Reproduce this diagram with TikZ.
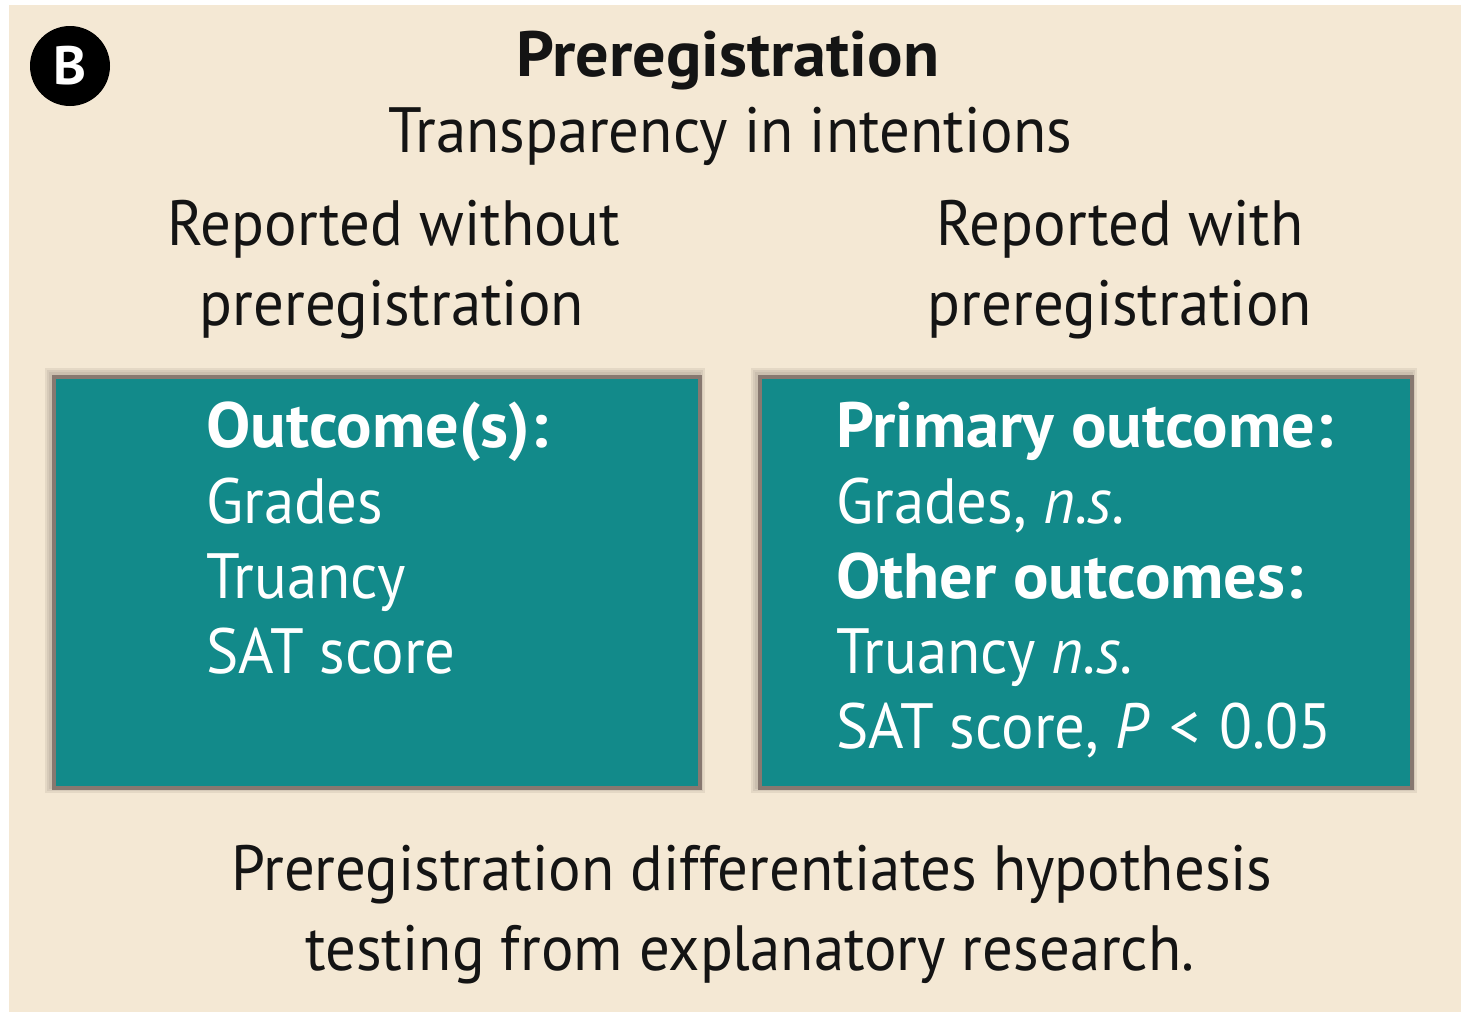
\documentclass[tikz,border=0pt]{standalone}
\usepackage{fontspec}
\setmainfont{PT Sans}[
  UprightFeatures={FakeStretch=0.95},
  ItalicFeatures={FakeStretch=0.95},
  BoldFeatures={FakeStretch=1.035}]
\definecolor{bg}{RGB}{244,232,212}
\definecolor{teal}{RGB}{18,138,138}
\definecolor{edge}{RGB}{135,120,112}
\definecolor{ink}{RGB}{20,20,20}
\tikzset{
  txt/.style={font=\fontsize{64}{75}\selectfont, text=ink, inner sep=0pt},
  boxtxt/.style={font=\fontsize{64}{75}\selectfont, text=white, inner sep=0pt, anchor=base west},
  panel/.style={fill=teal, draw=edge, line width=3.5pt},
}
\begin{document}
\begin{tikzpicture}[x=1pt,y=-1pt]
\useasboundingbox (0,0) rectangle (1461,1012);
\fill[white] (0,0) rectangle (1461,1012);
\fill[bg] (9,5) rectangle (1461,1012);
% badge
\node[circle, fill=black, minimum size=80pt, inner sep=0pt, text=white, font=\fontsize{54}{60}\selectfont\bfseries] (badge) at (70,66) {B};
% titles
\node[txt, anchor=base, font=\fontsize{64}{75}\selectfont\bfseries] (title) at (728,76) {Preregistration};
\node[txt, anchor=base] (subtitle) at (730,152) {Transparency in intentions};
\node[txt, anchor=base] (lh1) at (394,245) {Reported without};
\node[txt, anchor=base] (lh2) at (392,325) {preregistration};
\node[txt, anchor=base] (rh1) at (1120,245) {Reported with};
\node[txt, anchor=base] (rh2) at (1120,325) {preregistration};
% panels with soft shadow
\foreach \o in {7,5,3}{
  \fill[edge, opacity=0.14] (52-\o,375-\o) rectangle (698+\o,786+\o);
  \fill[edge, opacity=0.14] (758-\o,375-\o) rectangle (1410+\o,786+\o);
}
\node[panel, minimum width=646pt, minimum height=411pt, anchor=north west] (left) at (52,375) {};
\node[panel, minimum width=652pt, minimum height=411pt, anchor=north west] (right) at (758,375) {};
% left text
\node[boxtxt, font=\fontsize{64}{75}\selectfont\bfseries] (l1) at (206,447) {Outcome(s):};
\node[boxtxt] (l2) at (206,523) {Grades};
\node[boxtxt] (l3) at (206,598) {Truancy};
\node[boxtxt] (l4) at (206,673) {SAT score};
% right text
\node[boxtxt, font=\fontsize{64}{75}\selectfont\bfseries] (r1) at (836,447) {Primary outcome:};
\node[boxtxt] (r2) at (836,523) {Grades, \textit{n.s.}};
\node[boxtxt, font=\fontsize{64}{75}\selectfont\bfseries] (r3) at (836,598) {Other outcomes:};
\node[boxtxt] (r4) at (836,673) {Truancy \textit{n.s.}};
\node[boxtxt] (r5) at (836,748) {SAT score, \textit{P}\hspace{0.3em}<\hspace{0.3em}0.05};
% bottom
\node[txt, anchor=base] (b1) at (752,890) {Preregistration differentiates hypothesis};
\node[txt, anchor=base] (b2) at (750,970) {testing from explanatory research.};
\end{tikzpicture}
\end{document}
